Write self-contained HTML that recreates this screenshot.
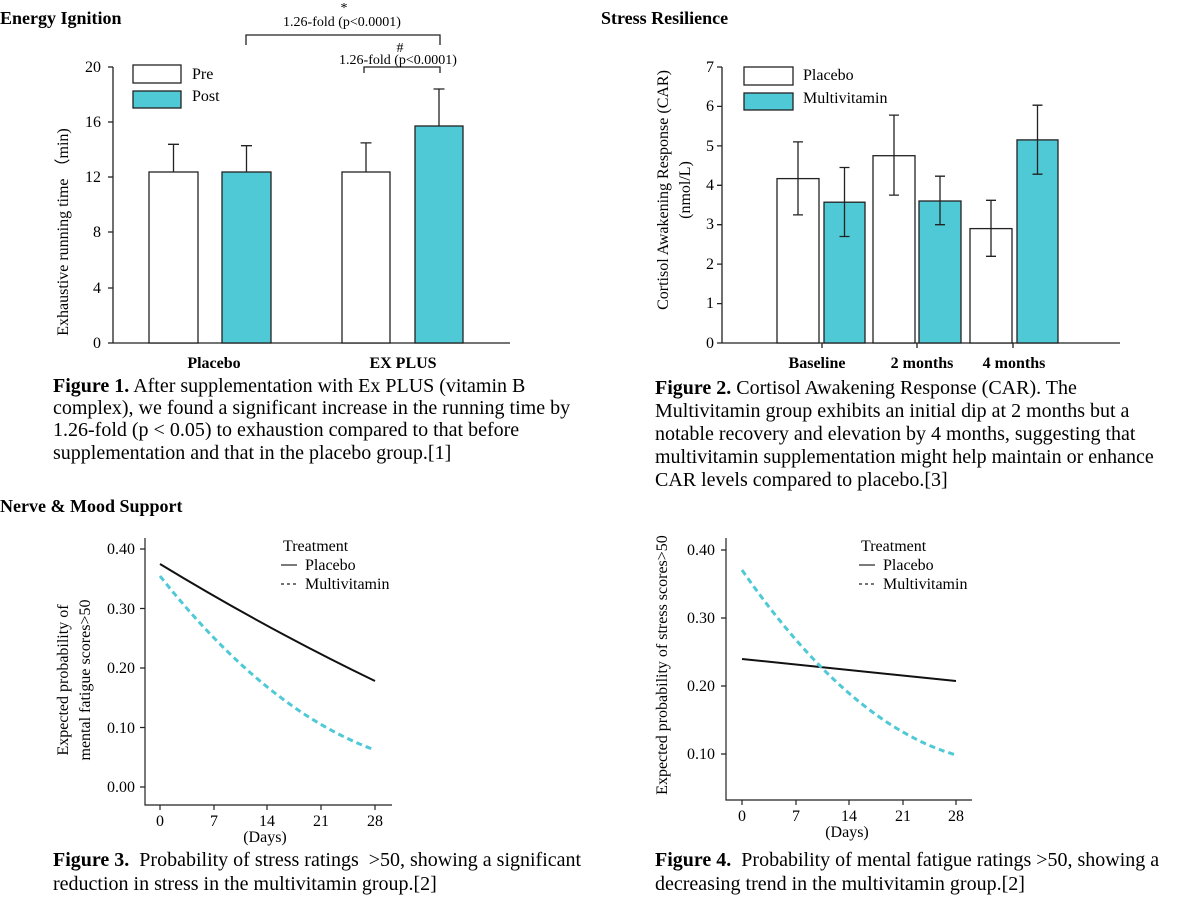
<!DOCTYPE html>
<html><head><meta charset="utf-8"><style>
body{margin:0;background:#fff}
svg{display:block;font-family:"Liberation Serif",serif}
</style></head><body>
<svg width="1200" height="901" viewBox="0 0 1200 901" xmlns="http://www.w3.org/2000/svg">
<g font-weight="bold" font-size="18">
<text x="0" y="24">Energy Ignition</text>
<text x="601" y="24">Stress Resilience</text>
<text x="0" y="512">Nerve &amp; Mood Support</text>
</g>
<!-- FIG 1 -->
<g stroke="#222" stroke-width="1.3" fill="none">
<line x1="113" y1="67" x2="113" y2="343"/><line x1="113" y1="343" x2="510" y2="343"/>
<line x1="108" y1="67" x2="113" y2="67"/><line x1="108" y1="122" x2="113" y2="122"/><line x1="108" y1="177" x2="113" y2="177"/><line x1="108" y1="232" x2="113" y2="232"/><line x1="108" y1="288" x2="113" y2="288"/><line x1="108" y1="343" x2="113" y2="343"/>
<rect x="149" y="172" width="49" height="171" fill="#fff"/>
<rect x="222" y="172" width="49" height="171" fill="#4fc9d5"/>
<rect x="342" y="172" width="48" height="171" fill="#fff"/>
<rect x="415" y="126" width="48" height="217" fill="#4fc9d5"/>
<path d="M173.5 172V144.3M168 144.3h11M246.5 172V145.7M241 145.7h11M366 172V142.9M360.5 142.9h11M439 126V89M433.5 89h11"/>
<rect x="133" y="65" width="48" height="18" fill="#fff"/>
<rect x="133" y="91" width="48" height="17" fill="#4fc9d5"/>
<path d="M246 45V35H440V45M364 73V67H440V73"/>
</g>
<g font-size="16" text-anchor="end">
<text x="101" y="72">20</text><text x="101" y="127">16</text><text x="101" y="182">12</text><text x="101" y="237">8</text><text x="101" y="293">4</text><text x="101" y="348">0</text>
</g>
<g font-size="16"><text x="192" y="79">Pre</text><text x="192" y="101">Post</text></g>
<g font-size="14" text-anchor="middle">
<text x="344" y="12">*</text><text x="342" y="26">1.26-fold (p&lt;0.0001)</text>
<text x="400" y="52">#</text><text x="398" y="64">1.26-fold (p&lt;0.0001)</text>
</g>
<g font-size="16" font-weight="bold" text-anchor="middle"><text x="214" y="368">Placebo</text><text x="403" y="368">EX PLUS</text></g>
<text font-size="16" text-anchor="middle" transform="translate(68,232) rotate(-90)">Exhaustive running time （min)</text>
<g font-size="20"><text x="53" y="392"><tspan font-weight="bold">Figure 1.</tspan> After supplementation with Ex PLUS (vitamin B</text>
<text x="53" y="414">complex), we found a significant increase in the running time by</text>
<text x="53" y="436">1.26-fold (p &lt; 0.05) to exhaustion compared to that before</text>
<text x="53" y="459">supplementation and that in the placebo group.[1]</text></g>
<!-- FIG 2 -->
<g stroke="#222" stroke-width="1.3" fill="none">
<line x1="722" y1="67" x2="722" y2="343"/><line x1="722" y1="343" x2="1120" y2="343"/>
<path d="M717 67h5M717 106.4h5M717 145.9h5M717 185.3h5M717 224.7h5M717 264.1h5M717 303.6h5M717 343h5M822 343v5M917 343v5M1013 343v5"/>
<rect x="777" y="178.6" width="42" height="164.4" fill="#fff"/>
<rect x="824" y="202.2" width="41" height="140.8" fill="#4fc9d5"/>
<rect x="873" y="155.7" width="42" height="187.3" fill="#fff"/>
<rect x="919" y="201" width="42" height="142" fill="#4fc9d5"/>
<rect x="970" y="228.6" width="42" height="114.4" fill="#fff"/>
<rect x="1017" y="139.9" width="41" height="203.1" fill="#4fc9d5"/>
<path d="M798 141.9V214.9M793 141.9h10M793 214.9h10M844.5 167.5V236.5M839.5 167.5h10M839.5 236.5h10M894 115.1V195.1M889 115.1h10M889 195.1h10M940 176.2V224.7M935 176.2h10M935 224.7h10M991 200.3V256.3M986 200.3h10M986 256.3h10M1037.5 105.2V174.2M1032.5 105.2h10M1032.5 174.2h10"/>
<rect x="744" y="67" width="49" height="18" fill="#fff"/>
<rect x="744" y="93" width="49" height="17" fill="#4fc9d5"/>
</g>
<g font-size="16" text-anchor="end">
<text x="714" y="72">7</text><text x="714" y="111">6</text><text x="714" y="151">5</text><text x="714" y="190">4</text><text x="714" y="229">3</text><text x="714" y="269">2</text><text x="714" y="308">1</text><text x="714" y="348">0</text>
</g>
<g font-size="16"><text x="803" y="80">Placebo</text><text x="803" y="103">Multivitamin</text></g>
<g font-size="16" font-weight="bold" text-anchor="middle"><text x="817" y="368">Baseline</text><text x="922" y="368">2 months</text><text x="1014" y="368">4 months</text></g>
<g font-size="16" text-anchor="middle"><text transform="translate(668,190) rotate(-90)">Cortisol Awakening Response (CAR)</text><text transform="translate(690,190) rotate(-90)">(nmol/L)</text></g>
<g font-size="20"><text x="655" y="394"><tspan font-weight="bold">Figure 2.</tspan> Cortisol Awakening Response (CAR). The</text>
<text x="655" y="417">Multivitamin group exhibits an initial dip at 2 months but a</text>
<text x="655" y="440">notable recovery and elevation by 4 months, suggesting that</text>
<text x="655" y="463">multivitamin supplementation might help maintain or enhance</text>
<text x="655" y="486">CAR levels compared to placebo.[3]</text></g>
<!-- FIG 3 -->
<g stroke="#222" stroke-width="1.2" fill="none">
<path d="M145 538V805H392M140 549h5M140 608.5h5M140 668h5M140 727.5h5M140 787h5M160 805v5M214 805v5M267 805v5M321 805v5M375 805v5"/>
<path d="M160 564Q267 629 375 681" stroke="#111" stroke-width="2"/>
<path d="M160 576Q267 711 375 750" stroke="#4fc9d5" stroke-width="3" stroke-dasharray="6 4"/>
<path d="M281 565h16"/><path d="M281 584h16" stroke-dasharray="3 3"/>
</g>
<g font-size="16" text-anchor="end"><text x="135" y="554">0.40</text><text x="135" y="614">0.30</text><text x="135" y="673">0.20</text><text x="135" y="733">0.10</text><text x="135" y="792">0.00</text></g>
<g font-size="16" text-anchor="middle"><text x="160" y="826">0</text><text x="214" y="826">7</text><text x="267" y="826">14</text><text x="321" y="826">21</text><text x="375" y="826">28</text><text x="265" y="842">(Days)</text></g>
<g font-size="16"><text x="283" y="551">Treatment</text><text x="305" y="570">Placebo</text><text x="305" y="589">Multivitamin</text></g>
<g font-size="16" text-anchor="middle"><text transform="translate(68,680) rotate(-90)">Expected probability of</text><text transform="translate(90,680) rotate(-90)">mental fatigue scores&gt;50</text></g>
<g font-size="20"><text x="53" y="866" xml:space="preserve"><tspan font-weight="bold">Figure 3.</tspan>  Probability of stress ratings  &gt;50, showing a significant</text>
<text x="53" y="890">reduction in stress in the multivitamin group.[2]</text></g>
<!-- FIG 4 -->
<g stroke="#222" stroke-width="1.2" fill="none">
<path d="M726 538V800H972M721 550h5M721 618h5M721 686h5M721 754h5M742 800v5M796 800v5M849 800v5M903 800v5M956 800v5"/>
<path d="M742 659L956 681" stroke="#111" stroke-width="2"/>
<path d="M742 570Q849 724 956 755" stroke="#4fc9d5" stroke-width="3" stroke-dasharray="6 4"/>
<path d="M859 565h16"/><path d="M859 584h16" stroke-dasharray="3 3"/>
</g>
<g font-size="16" text-anchor="end"><text x="715" y="555">0.40</text><text x="715" y="623">0.30</text><text x="715" y="691">0.20</text><text x="715" y="759">0.10</text></g>
<g font-size="16" text-anchor="middle"><text x="742" y="821">0</text><text x="796" y="821">7</text><text x="849" y="821">14</text><text x="903" y="821">21</text><text x="956" y="821">28</text><text x="847" y="837">(Days)</text></g>
<g font-size="16"><text x="861" y="551">Treatment</text><text x="883" y="570">Placebo</text><text x="883" y="589">Multivitamin</text></g>
<text font-size="16" text-anchor="middle" transform="translate(667,665) rotate(-90)">Expected probability of stress scores&gt;50</text>
<g font-size="20"><text x="655" y="866" xml:space="preserve"><tspan font-weight="bold">Figure 4.</tspan>  Probability of mental fatigue ratings &gt;50, showing a</text>
<text x="655" y="890">decreasing trend in the multivitamin group.[2]</text></g>
</svg>
</body></html>
